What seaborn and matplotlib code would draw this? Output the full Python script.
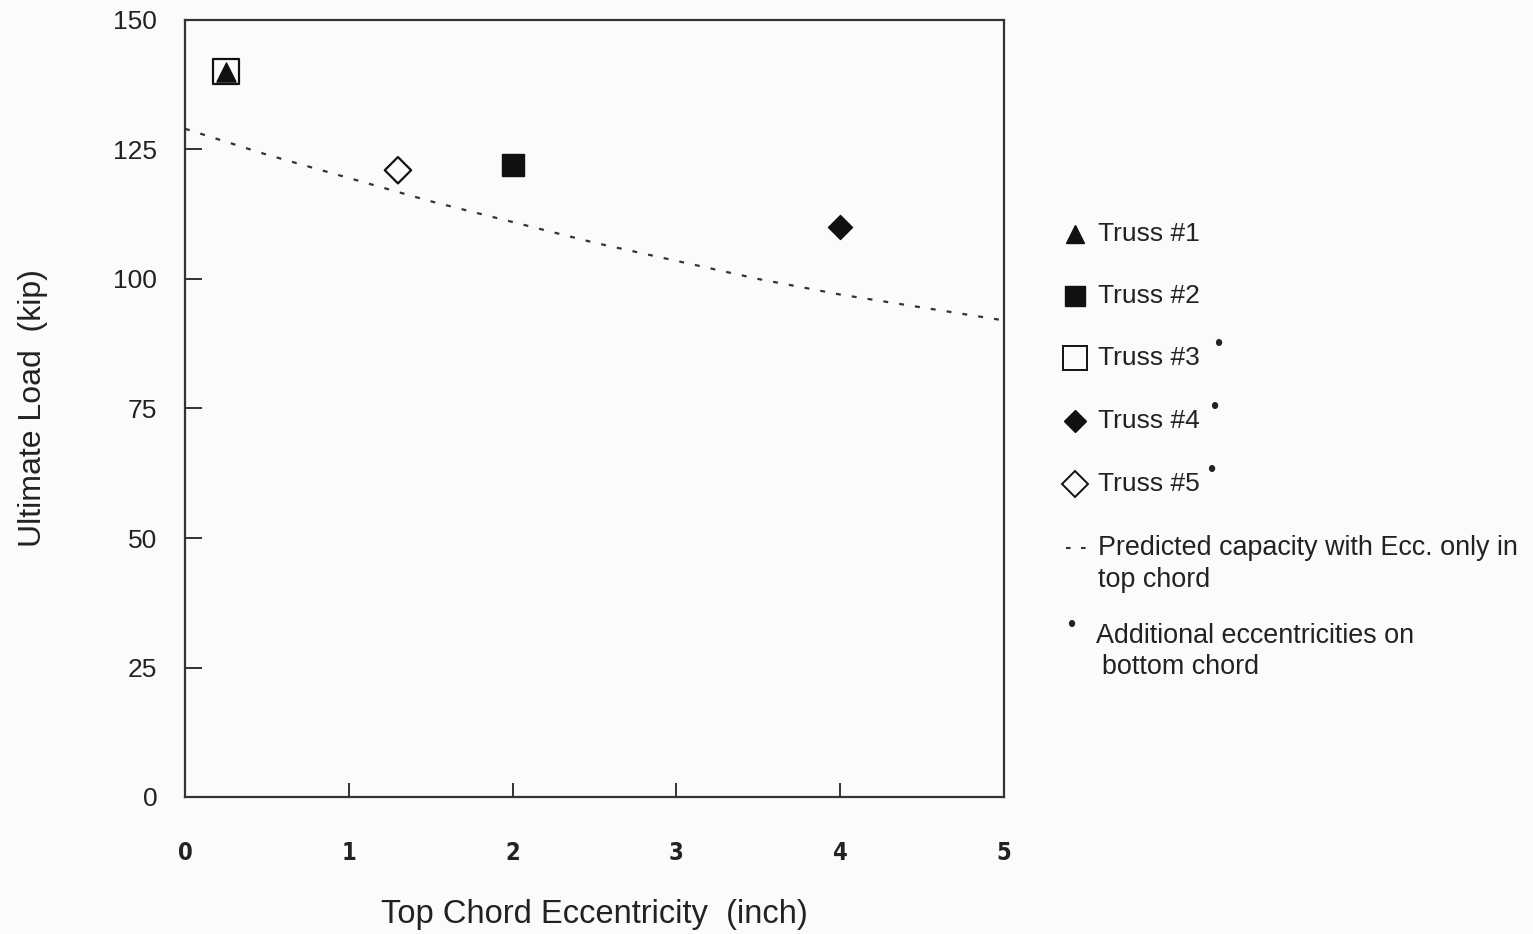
import matplotlib
matplotlib.use("Agg")
import matplotlib.pyplot as plt
import seaborn as sns
import pandas as pd
from matplotlib.lines import Line2D

# ---- data ----
truss_names = ["Truss #1", "Truss #2", "Truss #3", "Truss #4", "Truss #5"]
truss_ecc = [0.25, 2.0, 0.25, 4.0, 1.3]
truss_load = [140, 122, 140, 110, 121]

pred_ecc = [0, 0.5, 1, 1.5, 2, 2.5, 3, 3.5, 4, 4.5, 5]
pred_load = [129, 124, 119.5, 115, 111, 107, 103.5, 100, 97, 94.5, 92]

x_ticks = [0, 1, 2, 3, 4, 5]
y_ticks = [0, 25, 50, 75, 100, 125, 150]

sns.set_theme(style="ticks")
plt.rcParams["font.family"] = ["Liberation Sans", "DejaVu Sans"]

bg = "#fafbfa"
fig = plt.figure(figsize=(15.33, 9.34), dpi=100, facecolor=bg)
ax = fig.add_axes([185/1533, 1-797/934, (1004-185)/1533, (797-20)/934])
ax.set_facecolor(bg)

pred_df = pd.DataFrame({"ecc": pred_ecc, "load": pred_load})
sns.lineplot(data=pred_df, x="ecc", y="load", ax=ax, color="#333333",
             linewidth=1.6, linestyle=(0, (2.2, 5)), legend=False)

styles = {
    "Truss #3": dict(marker="s", s=330, facecolor="none", edgecolor="#111111", linewidth=1.6),
    "Truss #1": dict(marker="^", s=190, facecolor="#111111", edgecolor="#111111", linewidth=1),
    "Truss #2": dict(marker="s", s=230, facecolor="#111111", edgecolor="#111111", linewidth=1),
    "Truss #4": dict(marker="D", s=150, facecolor="#111111", edgecolor="#111111", linewidth=1),
    "Truss #5": dict(marker="D", s=180, facecolor="none", edgecolor="#111111", linewidth=1.6),
}
df = pd.DataFrame({"name": truss_names, "ecc": truss_ecc, "load": truss_load})
for name in ["Truss #3", "Truss #1", "Truss #2", "Truss #4", "Truss #5"]:
    sub = df[df["name"] == name]
    st = styles[name]
    sns.scatterplot(data=sub, x="ecc", y="load", ax=ax, marker=st["marker"], s=st["s"],
                    facecolor=st["facecolor"], edgecolor=st["edgecolor"],
                    linewidth=st["linewidth"], legend=False, zorder=3)

ax.set_xlim(0, 5)
ax.set_ylim(0, 150)
ax.set_xticks(x_ticks)
ax.set_yticks(y_ticks)
ax.set_xticklabels([str(t) for t in x_ticks], family=["DejaVu Sans"], fontstretch="condensed",
                   fontweight="bold", fontsize=17)
ax.set_yticklabels([str(t) for t in y_ticks], fontsize=19)
ax.tick_params(axis="x", direction="in", length=10, width=1.3, pad=32, colors="#222222")
ax.tick_params(axis="y", direction="in", length=12, width=1.3, pad=20, colors="#222222")
for sp in ax.spines.values():
    sp.set_linewidth(1.6)
    sp.set_color("#333333")

ax.set_xlabel("Top Chord Eccentricity  (inch)", fontsize=23.5, color="#222222", labelpad=24)
ax.set_ylabel("Ultimate Load  (kip)", fontsize=23, color="#222222", labelpad=47)

# ---- legend (hand placed in figure pixel coordinates) ----
lax = fig.add_axes([0, 0, 1, 1], facecolor="none")
lax.set_xlim(0, 1533)
lax.set_ylim(934, 0)
lax.axis("off")

leg_y = [234, 296, 358, 421, 484]
leg_style = {
    "Truss #1": dict(marker="^", ms=13, mfc="#111111", mec="#111111", mew=1),
    "Truss #2": dict(marker="s", ms=15, mfc="#111111", mec="#111111", mew=1),
    "Truss #3": dict(marker="s", ms=17, mfc="none", mec="#111111", mew=1.4),
    "Truss #4": dict(marker="D", ms=11, mfc="#111111", mec="#111111", mew=1),
    "Truss #5": dict(marker="D", ms=13, mfc="none", mec="#111111", mew=1.4),
}
for name, y in zip(truss_names, leg_y):
    lax.add_line(Line2D([1075], [y], linestyle="none", **leg_style[name]))
    lax.text(1098, y, name, fontsize=19, va="center", ha="left", color="#222222")
for y, x in zip([345, 408, 471], [1218, 1214, 1211]):
    lax.text(x, y, "•", fontsize=17, va="center", ha="center", color="#222222")

lax.add_line(Line2D([1066, 1090], [548, 548], color="#333333", linewidth=1.5, linestyle=(0, (2.2, 5))))
lax.text(1098, 548, "Predicted capacity with Ecc. only in", fontsize=19.4, va="center", ha="left", color="#222222")
lax.text(1098, 580, "top chord", fontsize=19.4, va="center", ha="left", color="#222222")
lax.text(1071, 626, "•", fontsize=17, va="center", ha="center", color="#222222")
lax.text(1096, 636, "Additional eccentricities on", fontsize=19.4, va="center", ha="left", color="#222222")
lax.text(1102, 667, "bottom chord", fontsize=19.4, va="center", ha="left", color="#222222")

fig.savefig("out.png", dpi=100, facecolor=bg)
